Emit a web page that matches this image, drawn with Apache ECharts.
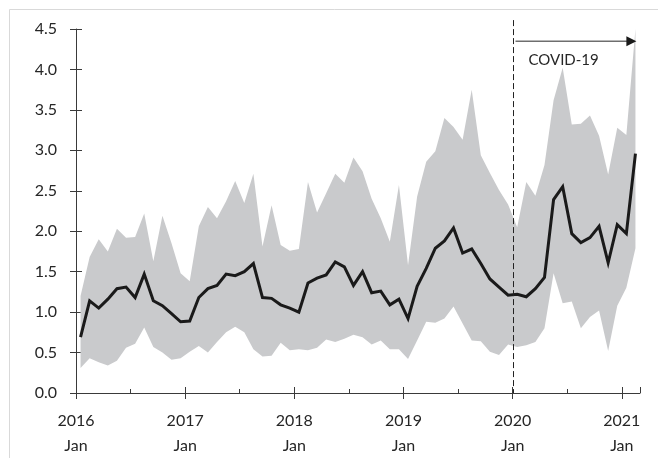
<!DOCTYPE html>
<html>
<head>
<meta charset="utf-8">
<script src="https://cdn.jsdelivr.net/npm/echarts@6/dist/echarts.min.js"></script>
<style>
html,body{margin:0;padding:0;background:#fff;}
#chart{width:658px;height:458px;}
</style>
</head>
<body>
<div id="chart"></div>
<script>
// ---- data ----
const startYear = 2016;
const monthCount = 62; // 2016-01 .. 2021-02
const months = [];
for (let i = 0; i < monthCount; i++) {
  const y = startYear + Math.floor(i / 12);
  const m = (i % 12) + 1;
  months.push(y + '-' + (m < 10 ? '0' + m : m));
}
const tickYears = ['2016', '2017', '2018', '2019', '2020', '2021'];
const tickMonth = 'Jan';
const yTicks = ['0.0','0.5','1.0','1.5','2.0','2.5','3.0','3.5','4.0','4.5'];

const meanValues = [
  0.69, 1.14, 1.05, 1.16, 1.29, 1.31, 1.18, 1.47, 1.14, 1.08, 0.98, 0.88,
  0.89, 1.18, 1.29, 1.33, 1.47, 1.45, 1.50, 1.60, 1.18, 1.17, 1.09, 1.05,
  1.00, 1.36, 1.42, 1.46, 1.62, 1.56, 1.33, 1.50, 1.24, 1.26, 1.09, 1.16,
  0.92, 1.32, 1.54, 1.79, 1.88, 2.04, 1.73, 1.78, 1.60, 1.41, 1.31, 1.21,
  1.22, 1.19, 1.29, 1.43, 2.39, 2.55, 1.97, 1.86, 1.92, 2.06, 1.61, 2.08,
  1.97, 2.96
];
const upperValues = [
  1.20, 1.68, 1.90, 1.75, 2.03, 1.92, 1.93, 2.22, 1.63, 2.19, 1.85, 1.48,
  1.38, 2.06, 2.30, 2.16, 2.37, 2.62, 2.35, 2.71, 1.81, 2.32, 1.83, 1.76,
  1.78, 2.61, 2.23, 2.47, 2.71, 2.60, 2.91, 2.74, 2.40, 2.16, 1.87, 2.57,
  1.58, 2.43, 2.86, 2.99, 3.40, 3.29, 3.13, 3.75, 2.94, 2.72, 2.51, 2.33,
  2.05, 2.61, 2.44, 2.82, 3.62, 4.02, 3.32, 3.33, 3.43, 3.18, 2.70, 3.28,
  3.19, 4.50
];
const lowerValues = [
  0.31, 0.43, 0.38, 0.34, 0.40, 0.56, 0.61, 0.81, 0.57, 0.50, 0.41, 0.43,
  0.51, 0.58, 0.50, 0.63, 0.75, 0.82, 0.75, 0.54, 0.45, 0.46, 0.62, 0.53,
  0.54, 0.53, 0.56, 0.66, 0.63, 0.67, 0.72, 0.69, 0.60, 0.65, 0.54, 0.54,
  0.42, 0.65, 0.88, 0.87, 0.92, 1.07, 0.86, 0.65, 0.64, 0.51, 0.47, 0.60,
  0.57, 0.59, 0.63, 0.80, 1.48, 1.11, 1.13, 0.80, 0.94, 1.02, 0.52, 1.08,
  1.30, 1.79
];
const covidLabel = 'COVID-19';
const covidStartIndex = months.indexOf('2020-01');

// ---- derived ----
const bandWidth = upperValues.map((u, i) => +(u - lowerValues[i]).toFixed(3));
const yTickValues = yTicks.map(Number);

const FONT = 'Lato';
const TXT = '#262626';
const AX = '#3a3a3a';

const GRID = {left: 76, right: 18, top: 29, bottom: 65};
const W = 658;

const chart = echarts.init(document.getElementById('chart'), null, {renderer: 'canvas'});

const option = {
  animation: false,
  backgroundColor: '#ffffff',
  graphic: [{
    type: 'rect',
    shape: {x: 9.5, y: 9.5, width: 700, height: 500},
    style: {fill: 'none', stroke: '#d9d9d9', lineWidth: 1},
    silent: true, z: -10
  }],
  grid: {left: GRID.left, right: GRID.right, top: GRID.top, bottom: GRID.bottom, containLabel: false},
  xAxis: [
    {
      type: 'category', data: months, boundaryGap: true, show: false
    },
    {
      type: 'value', min: 0, max: monthCount, interval: 12, position: 'bottom',
      axisLine: {show: true, onZero: false, lineStyle: {color: AX, width: 1}},
      axisTick: {show: true, length: 6, lineStyle: {color: AX, width: 1}},
      splitLine: {show: false},
      axisLabel: {
        show: true, margin: 15, color: TXT, fontFamily: FONT, fontSize: 16, lineHeight: 25,
        showMaxLabel: false,
        formatter: function (v) {
          const k = Math.round(v / 12);
          if (Math.abs(v - k * 12) > 1e-6 || k >= tickYears.length) return '';
          return tickYears[k] + '\n' + tickMonth;
        }
      }
    },
    {
      type: 'value', min: 0, max: monthCount, interval: 12, position: 'top',
      offset: -(458 - GRID.top - GRID.bottom),
      axisLine: {show: false, onZero: false},
      axisTick: {show: true, length: 6, lineStyle: {color: AX, width: 1}},
      minorTick: {show: true, splitNumber: 2, length: 4, lineStyle: {color: AX, width: 1}},
      splitLine: {show: false}, minorSplitLine: {show: false},
      axisLabel: {show: false}
    }
  ],
  yAxis: [
    {
      type: 'value', min: 0, max: 4.5, interval: 0.5, position: 'left',
      axisLine: {show: true, onZero: false, lineStyle: {color: AX, width: 1}},
      axisTick: {show: true, length: 6, lineStyle: {color: AX, width: 1}},
      splitLine: {show: false},
      axisLabel: {show: false}
    },
    {
      type: 'value', min: 0, max: 4.5, interval: 0.5, position: 'right',
      offset: -(W - GRID.left - GRID.right),
      axisLine: {show: false, onZero: false},
      axisTick: {show: true, length: 6, lineStyle: {color: AX, width: 1}},
      splitLine: {show: false},
      axisLabel: {show: false}
    }
  ],
  series: [
    {
      name: 'lower', type: 'line', xAxisIndex: 0, yAxisIndex: 0, stack: 'band',
      data: lowerValues, symbol: 'none', lineStyle: {width: 0, opacity: 0},
      silent: true, z: 1
    },
    {
      name: 'band', type: 'line', xAxisIndex: 0, yAxisIndex: 0, stack: 'band',
      data: bandWidth, symbol: 'none', lineStyle: {width: 0, opacity: 0},
      areaStyle: {color: '#c9cacc', opacity: 1},
      silent: true, z: 1
    },
    {
      name: 'mean', type: 'line', xAxisIndex: 0, yAxisIndex: 0,
      data: meanValues, symbol: 'none',
      lineStyle: {color: '#1a1a1a', width: 3, join: 'miter'},
      z: 3
    },
    {
      // y-axis tick labels, placed through the y scale
      name: 'yTickLabels', type: 'custom', xAxisIndex: 1, yAxisIndex: 0, clip: false,
      data: yTickValues.map((v, i) => [0, v, i]), z: 6, silent: true,
      renderItem: function (params, api) {
        const p = api.coord([0, api.value(1)]);
        return {
          type: 'text',
          x: p[0] - 19, y: p[1],
          style: {
            text: yTicks[api.value(2)], fill: TXT, font: '16px Lato',
            align: 'right', verticalAlign: 'middle'
          }
        };
      }
    },
    {
      name: 'covid', type: 'custom', xAxisIndex: 1, yAxisIndex: 0, clip: false,
      data: [[covidStartIndex, 0]], z: 5, silent: true,
      renderItem: function (params, api) {
        const p0 = api.coord([api.value(0), 0]);
        const x = Math.round(p0[0]) + 0.5;
        const yBottom = p0[1];
        const yTop = api.coord([api.value(0), 4.61])[1];
        const yArrow = api.coord([api.value(0), 4.35])[1];
        const xEnd = api.coord([monthCount - 0.4, 0])[0];
        const yText = api.coord([api.value(0), 4.11])[1];
        return {
          type: 'group',
          children: [
            {
              type: 'line',
              shape: {x1: x, y1: yTop, x2: x, y2: yBottom},
              style: {stroke: '#222', lineWidth: 1, lineDash: [6, 3]}
            },
            {
              type: 'line',
              shape: {x1: x + 2, y1: yArrow, x2: xEnd - 8, y2: yArrow},
              style: {stroke: '#6e6e6e', lineWidth: 1.5}
            },
            {
              type: 'polygon',
              shape: {points: [[xEnd, yArrow], [xEnd - 10, yArrow - 5], [xEnd - 10, yArrow + 5]]},
              style: {fill: '#1a1a1a'}
            },
            {
              type: 'text',
              x: x + 15, y: yText,
              style: {
                text: covidLabel, fill: TXT, font: '15px Lato',
                align: 'left', verticalAlign: 'middle'
              }
            }
          ]
        };
      }
    }
  ]
};
chart.setOption(option);
</script>
</body>
</html>
